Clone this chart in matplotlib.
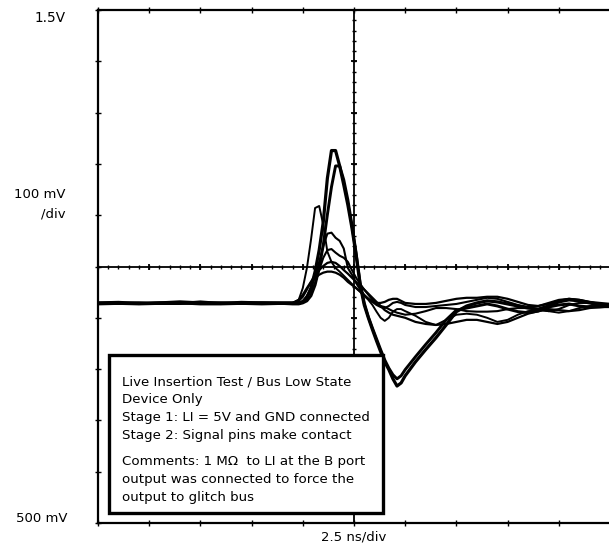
"""Live insertion test: scope capture of the bus-low glitch (7 overlaid sweeps)."""
import numpy as np
import matplotlib
matplotlib.use("Agg")
import matplotlib.pyplot as plt
from matplotlib.patches import Rectangle

# time axis, ns (2.5 ns/div, 10 div)
t_ns = [0, 1, 2, 3, 4, 5, 6, 7, 8, 9, 9.5, 9.8, 10.0, 10.2, 10.4, 10.6, 10.8,
        11.0, 11.2, 11.4, 11.6, 11.8, 12.0, 12.2, 12.4, 12.6, 12.8, 13.0, 13.2,
        13.4, 13.6, 13.8, 14.0, 14.2, 14.4, 14.6, 14.8, 15.0, 15.5, 16, 16.5,
        17, 17.5, 18, 18.5, 19, 19.5, 20, 20.5, 21, 21.5, 22, 22.5, 23, 23.5,
        24, 24.5, 25]

# sweeps, mV
sweep_1 = [929, 930, 928, 929, 931, 929, 928, 930, 929, 929, 929, 929, 931, 939,
           958, 990, 1032, 1087, 1172, 1226, 1226, 1196, 1159, 1120, 1075, 1023,
           964, 925, 900, 877, 855, 834, 814, 799, 781, 767, 773, 787, 814, 838,
           861, 886, 912, 923, 929, 933, 931, 927, 923, 919, 917, 923, 931, 935,
           933, 929, 925, 925]
sweep_2 = [927, 928, 927, 928, 929, 927, 927, 928, 927, 928, 927, 927, 929, 933,
           943, 964, 997, 1042, 1101, 1155, 1196, 1196, 1169, 1130, 1081, 1027,
           968, 929, 902, 880, 859, 838, 818, 802, 789, 781, 787, 799, 824, 848,
           871, 896, 915, 919, 923, 927, 923, 917, 912, 910, 913, 921, 925, 927,
           923, 921, 921, 923]
sweep_3 = [929, 929, 930, 928, 929, 932, 929, 929, 930, 929, 929, 935, 958, 997,
           1052, 1114, 1118, 1081, 1029, 1009, 997, 990, 982, 974, 966, 958, 951,
           943, 935, 925, 912, 900, 894, 900, 912, 917, 917, 913, 904, 892, 886,
           896, 906, 908, 906, 900, 892, 896, 906, 913, 915, 913, 910, 913, 919,
           923, 923, 923]
sweep_4 = [929, 929, 928, 930, 929, 929, 930, 929, 929, 929, 929, 929, 933, 943,
           958, 980, 1009, 1040, 1064, 1066, 1056, 1050, 1035, 997, 984, 968, 955,
           945, 937, 931, 925, 921, 919, 923, 929, 931, 929, 925, 921, 921, 923,
           925, 927, 931, 935, 939, 937, 931, 925, 921, 923, 929, 935, 937, 935,
           931, 927, 927]
sweep_5 = [927, 927, 928, 927, 927, 928, 927, 927, 928, 927, 927, 927, 931, 939,
           951, 968, 993, 1017, 1032, 1034, 1027, 1021, 1017, 1009, 993, 978, 966,
           955, 945, 935, 927, 923, 921, 917, 913, 910, 908, 906, 908, 913, 919,
           919, 917, 913, 912, 912, 913, 917, 919, 919, 917, 913, 917, 925, 929,
           929, 927, 925]
sweep_6 = [929, 929, 929, 929, 929, 929, 929, 929, 929, 929, 929, 933, 941, 955,
           970, 984, 993, 1001, 1007, 1009, 1007, 1001, 993, 986, 978, 970, 962,
           955, 947, 939, 931, 923, 915, 910, 906, 904, 902, 900, 892, 888, 886,
           888, 892, 896, 896, 892, 888, 892, 900, 908, 913, 917, 915, 913, 915,
           919, 921, 921]
sweep_7 = [929, 929, 929, 929, 929, 929, 929, 929, 929, 929, 929, 935, 945, 958,
           970, 978, 984, 988, 990, 990, 988, 984, 978, 970, 964, 958, 951, 943,
           937, 931, 929, 929, 931, 935, 937, 937, 933, 929, 927, 927, 929, 933,
           937, 939, 939, 941, 941, 937, 931, 925, 923, 927, 933, 937, 935, 931,
           929, 927]

sweeps = [sweep_1, sweep_2, sweep_3, sweep_4, sweep_5, sweep_6, sweep_7]
widths = [2.3, 2.1, 1.4, 1.5, 1.5, 1.6, 1.6]

box_lines = ["Live Insertion Test / Bus Low State",
             "Device Only",
             "Stage 1: LI = 5V and GND connected",
             "Stage 2: Signal pins make contact",
             "Comments: 1 M\u03a9  to LI at the B port",
             "output was connected to force the",
             "output to glitch bus"]
box_rows_px = [382, 400, 418, 436, 462, 480, 497]

W, H = 609, 548
fig = plt.figure(figsize=(W / 100, H / 100), dpi=100)
ax = fig.add_axes([98 / W, 1 - 523 / H, 512 / W, 513 / H])

t = np.array(t_ns)
for s, lw in zip(sweeps, widths):
    ax.plot(t, np.array(s) / 1000, color="black", lw=lw,
            solid_joinstyle="round", solid_capstyle="round")

ax.set_xlim(0, 25)
ax.set_ylim(0.5, 1.5)

# graticule: center crosshair with 1/5-div marks
ax.axhline(1.0, color="black", lw=1.3, zorder=1)
ax.axvline(12.5, color="black", lw=1.3, zorder=1)
xmin = np.arange(0, 25.01, 0.5)
ymin = np.arange(0.5, 1.501, 0.02)
xmaj = np.arange(0, 25.01, 2.5)
ymaj = np.arange(0.5, 1.501, 0.1)
ax.plot(xmin, np.full_like(xmin, 1.0), ls="none", marker="|", ms=3, mew=1, color="black")
ax.plot(xmaj, np.full_like(xmaj, 1.0), ls="none", marker="|", ms=5, mew=1.3, color="black")
ax.plot(np.full_like(ymin, 12.5), ymin, ls="none", marker="_", ms=3, mew=1, color="black")
ax.plot(np.full_like(ymaj, 12.5), ymaj, ls="none", marker="_", ms=5, mew=1.3, color="black")

ax.set_xticks(xmaj)
ax.set_yticks(ymaj)
ax.tick_params(direction="inout", length=4, width=1, labelbottom=False, labelleft=False,
               top=True, right=False)
for side in ("left", "top", "bottom"):
    ax.spines[side].set_linewidth(1.6)
ax.spines["right"].set_visible(False)

# annotation box
ax.add_patch(Rectangle((11 / 512, 10 / 513), 274 / 512, 158 / 513, transform=ax.transAxes,
                       facecolor="white", edgecolor="black", lw=2.4, zorder=5))
for line, row in zip(box_lines, box_rows_px):
    fig.text(122 / W, 1 - row / H, line, fontsize=9.6, va="center", ha="left", zorder=6)

# scope labels
fig.text(66 / W, 1 - 18 / H, "1.5V", fontsize=9.8, ha="right", va="center")
fig.text(66 / W, 1 - 195 / H, "100 mV", fontsize=9.5, ha="right", va="center")
fig.text(66 / W, 1 - 214 / H, "/div", fontsize=9.5, ha="right", va="center")
fig.text(68 / W, 1 - 519 / H, "500 mV", fontsize=9.5, ha="right", va="center")
fig.text(354 / W, 1 - 537 / H, "2.5 ns/div", fontsize=9.5, ha="center", va="center")

fig.savefig("out.png", dpi=100)
